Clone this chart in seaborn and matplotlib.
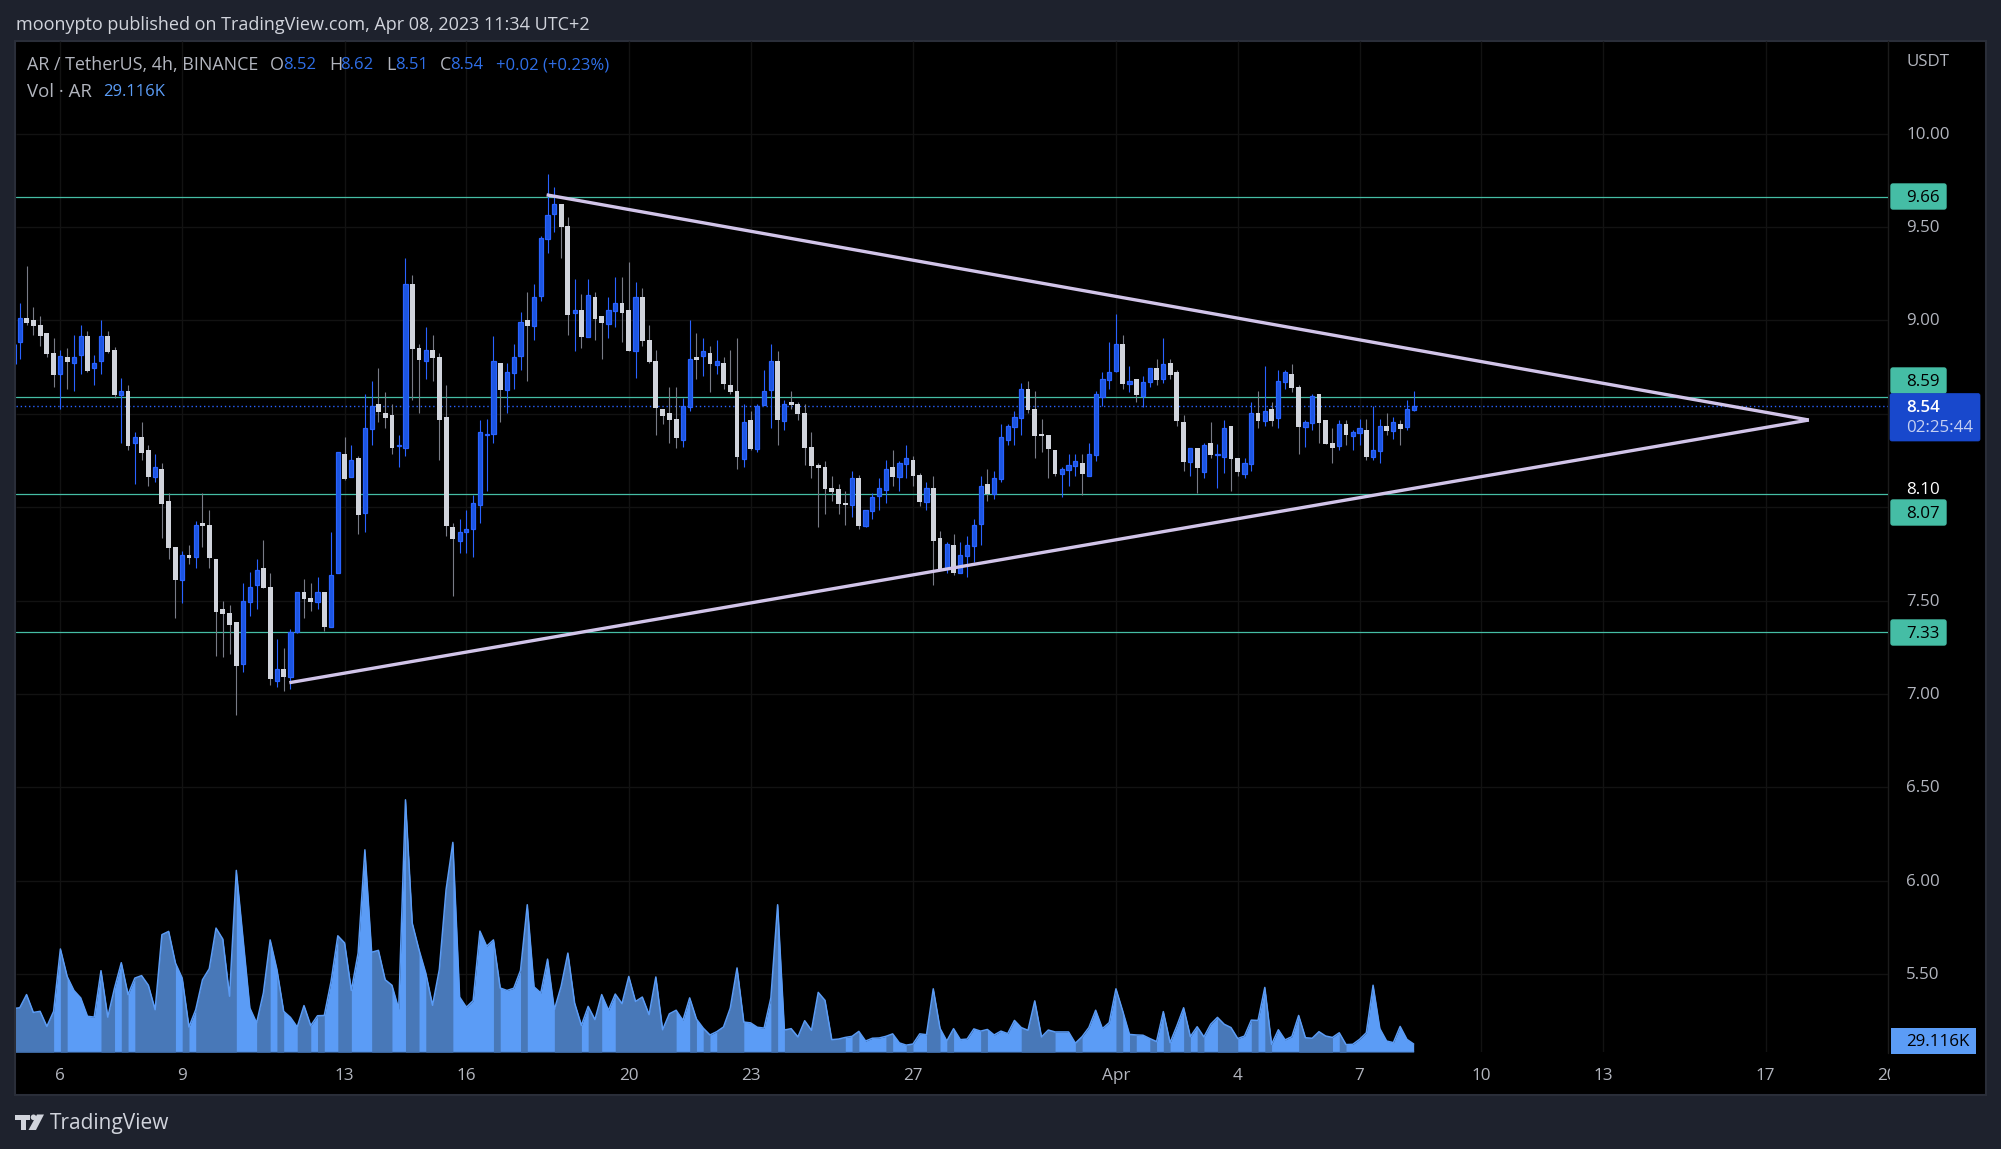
import numpy as np
import pandas as pd
import seaborn as sns
import matplotlib
matplotlib.use("Agg")
import matplotlib.pyplot as plt
from matplotlib.patches import Rectangle, FancyBboxPatch, Polygon, Circle

# ---------- data (4h candles, AR/USDT, first value = bar 1) ----------
opens = [8.883,9.012,9.003,8.976,8.932,8.825,8.712,8.803,8.771,8.814,
8.917,8.744,8.782,8.917,8.842,8.603,8.623,8.342,8.376,8.307,
8.164,8.205,8.034,7.787,7.612,7.744,7.732,7.916,7.905,7.723,
7.455,7.434,7.385,7.162,7.494,7.582,7.675,7.573,7.071,7.134,
7.093,7.334,7.546,7.514,7.494,7.546,7.360,7.646,8.285,8.164,
8.264,7.971,8.421,8.553,8.505,8.494,8.328,8.319,9.196,8.853,
8.782,8.842,8.805,8.483,7.894,7.821,7.867,7.882,8.014,8.387,
8.391,8.772,8.629,8.720,8.811,9.003,8.972,9.133,9.438,9.572,
9.624,9.506,9.042,9.056,8.913,9.126,9.024,8.983,9.053,9.094,
9.056,8.838,9.126,8.895,8.783,8.526,8.504,8.472,8.362,8.538,
8.804,8.811,8.826,8.763,8.772,8.654,8.622,8.260,8.467,8.312,
8.547,8.629,8.783,8.463,8.563,8.553,8.504,8.322,8.226,8.215,
8.103,8.097,8.022,8.013,8.156,7.901,7.981,8.062,8.094,8.215,
8.163,8.233,8.253,8.172,8.030,8.103,7.835,7.671,7.797,7.649,
7.741,7.794,7.912,8.124,8.073,8.153,8.362,8.431,8.480,8.633,
8.526,8.392,8.387,8.306,8.180,8.201,8.223,8.237,8.169,8.281,
8.592,8.683,8.731,8.874,8.662,8.687,8.594,8.673,8.746,8.689,
8.772,8.724,8.457,8.244,8.317,8.190,8.344,8.280,8.271,8.435,
8.264,8.180,8.233,8.505,8.464,8.526,8.480,8.673,8.713,8.644,
8.431,8.453,8.606,8.467,8.344,8.330,8.446,8.383,8.399,8.414,
8.271,8.303,8.435,8.410,8.446,8.431,8.522]
closes = [9.012,8.989,8.973,8.919,8.823,8.710,8.812,8.780,8.803,8.919,
8.732,8.771,8.916,8.833,8.603,8.621,8.330,8.375,8.292,8.164,
8.214,8.019,7.784,7.612,7.743,7.730,7.903,7.901,7.730,7.441,
7.430,7.371,7.152,7.496,7.571,7.662,7.569,7.082,7.132,7.091,
7.334,7.544,7.509,7.493,7.544,7.360,7.635,8.294,8.151,8.251,
7.959,8.423,8.541,8.510,8.478,8.317,8.334,9.194,8.848,8.789,
8.841,8.799,8.467,7.900,7.830,7.866,7.882,8.021,8.401,8.394,
8.782,8.628,8.722,8.803,8.990,8.970,9.124,9.440,9.563,9.622,
9.501,9.029,9.054,8.911,9.135,9.008,8.986,9.054,9.092,9.040,
8.837,9.124,8.890,8.778,8.533,8.488,8.467,8.371,8.540,8.792,
8.788,8.835,8.767,8.781,8.660,8.617,8.269,8.454,8.312,8.540,
8.621,8.781,8.467,8.551,8.547,8.499,8.317,8.221,8.210,8.097,
8.081,8.017,8.012,8.154,7.899,7.983,8.053,8.101,8.203,8.162,
8.235,8.262,8.167,8.028,8.101,7.819,7.669,7.801,7.647,7.742,
7.796,7.903,8.112,8.071,8.155,8.374,8.435,8.481,8.631,8.521,
8.381,8.381,8.312,8.178,8.203,8.224,8.246,8.178,8.283,8.605,
8.685,8.722,8.872,8.660,8.674,8.601,8.673,8.744,8.681,8.765,
8.708,8.462,8.242,8.315,8.210,8.331,8.280,8.287,8.423,8.258,
8.189,8.235,8.503,8.462,8.514,8.462,8.674,8.722,8.638,8.430,
8.455,8.594,8.451,8.339,8.317,8.444,8.387,8.401,8.423,8.269,
8.305,8.433,8.408,8.455,8.419,8.524,8.540]
highs = [9.092,9.292,9.071,9.024,8.932,8.905,8.842,8.853,8.923,8.974,
8.944,8.814,9.003,8.944,8.860,8.691,8.655,8.403,8.457,8.332,
8.285,8.235,8.075,7.787,7.764,7.798,7.926,8.075,7.984,7.723,
7.498,7.477,7.385,7.594,7.653,7.723,7.825,7.648,7.294,7.246,
7.348,7.544,7.616,7.594,7.626,7.546,7.867,8.294,8.376,8.334,
8.275,8.607,8.676,8.746,8.617,8.553,8.387,9.335,9.244,8.874,
8.966,8.923,8.826,8.655,7.916,7.937,7.985,8.066,8.467,8.473,
8.917,8.772,8.772,8.874,9.045,9.153,9.195,9.452,9.785,9.715,
9.624,9.554,9.222,9.142,9.222,9.153,9.024,9.126,9.233,9.233,
9.313,9.206,9.174,8.976,8.842,8.526,8.644,8.644,8.585,9.003,
8.933,8.906,8.863,8.895,8.804,8.842,8.906,8.553,8.515,8.553,
8.735,8.874,8.837,8.574,8.622,8.563,8.553,8.403,8.237,8.247,
8.167,8.124,8.087,8.194,8.172,7.983,8.076,8.156,8.253,8.306,
8.247,8.333,8.274,8.183,8.135,8.167,7.873,7.813,7.856,7.813,
7.846,7.937,8.167,8.205,8.194,8.446,8.446,8.515,8.663,8.676,
8.622,8.472,8.387,8.306,8.215,8.285,8.285,8.285,8.344,8.622,
8.724,8.885,9.035,8.922,8.756,8.687,8.703,8.744,8.794,8.906,
8.794,8.735,8.494,8.315,8.317,8.344,8.456,8.339,8.467,8.435,
8.264,8.264,8.563,8.622,8.756,8.563,8.735,8.735,8.767,8.655,
8.467,8.605,8.606,8.467,8.424,8.467,8.467,8.414,8.472,8.472,
8.542,8.472,8.505,8.483,8.467,8.574,8.622]
lows = [8.796,8.976,8.923,8.864,8.807,8.646,8.528,8.633,8.625,8.714,
8.725,8.655,8.714,8.828,8.585,8.344,8.307,8.125,8.253,8.114,
8.135,7.835,7.723,7.407,7.489,7.696,7.675,7.787,7.675,7.203,
7.198,7.214,6.887,7.118,7.418,7.455,7.569,7.048,7.037,7.016,
7.027,7.327,7.407,7.444,7.455,7.337,7.360,7.646,8.146,8.164,
7.857,7.867,8.334,8.457,8.425,8.285,8.216,8.275,8.575,8.505,
8.687,8.676,8.253,7.846,7.525,7.755,7.755,7.734,7.916,8.087,
8.344,8.456,8.504,8.633,8.735,8.676,8.895,9.104,9.361,9.474,
9.335,8.922,8.837,8.853,8.913,8.895,8.794,8.906,8.965,8.885,
8.837,8.692,8.863,8.772,8.387,8.446,8.344,8.317,8.322,8.515,
8.687,8.703,8.617,8.713,8.633,8.606,8.204,8.215,8.306,8.295,
8.547,8.424,8.333,8.413,8.526,8.467,8.226,8.156,7.894,7.963,
8.033,7.963,7.904,7.947,7.883,7.894,7.937,7.985,8.022,8.113,
8.087,8.156,8.113,8.006,7.985,7.583,7.669,7.647,7.637,7.649,
7.626,7.706,7.798,8.033,8.044,8.135,8.333,8.333,8.387,8.504,
8.264,8.296,8.156,8.167,8.055,8.114,8.167,8.065,8.169,8.247,
8.542,8.633,8.724,8.633,8.617,8.563,8.537,8.644,8.655,8.665,
8.687,8.435,8.194,8.167,8.076,8.156,8.264,8.103,8.183,8.087,
8.167,8.156,8.194,8.424,8.435,8.435,8.424,8.633,8.617,8.285,
8.322,8.414,8.344,8.339,8.237,8.306,8.333,8.306,8.333,8.253,
8.253,8.237,8.387,8.365,8.333,8.414,8.515]
edge_wick = [8.767, 8.873]          # bar cut off by the left edge of the pane

# volume in thousands, first value = bar 0
volumes = [158,161,209,144,148,93,148,375,275,224,197,130,127,296,127,233,325,209,269,278,
243,154,427,439,324,269,91,154,263,303,451,411,203,661,409,160,106,215,408,300,
148,126,91,169,96,132,133,257,423,397,224,360,736,363,370,263,243,156,918,469,
372,287,170,300,591,763,200,163,187,440,385,408,233,224,232,297,536,237,215,338,
154,239,360,178,97,166,118,209,152,211,176,275,184,200,136,273,81,139,152,115,
197,120,87,62,74,91,160,306,109,106,90,87,197,536,80,85,55,114,79,217,
188,45,47,53,57,75,40,50,51,57,66,33,25,29,66,63,230,86,40,85,
45,47,84,76,82,62,76,67,115,89,79,186,55,80,73,73,73,32,56,89,
152,85,107,230,149,64,62,61,49,38,147,34,95,161,56,92,55,101,126,101,
89,49,58,116,115,235,28,81,44,56,133,52,50,74,58,53,70,27,28,46,
70,243,85,40,34,93,46,29.116]
vol_dark_spans = [(0,6),(7,8),(13,15),(16,17),(18,24),(25,26),(27,33),(36,38),(39,40),(42,44),
(45,46),(48,50),(53,56),(58,60),(61,65),(71,72),(75,76),(80,84),(85,87),(89,98),
(100,101),(102,103),(104,108),(112,113),(114,123),(124,125),(129,130),(132,133),(135,137),(138,139),
(143,144),(149,154),(157,158),(163,164),(165,166),(168,169),(170,171),(173,174),(175,176),(178,181),
(183,184),(185,186),(190,195),(196,197)]

level_values = [9.66, 8.59, 8.07, 7.33]
last_price = 8.54
grid_prices = [10.0, 9.5, 9.0, 8.5, 8.0, 7.5, 7.0, 6.5, 6.0, 5.5]
price_tick_values = [10.0, 9.5, 9.0, 8.1, 7.5, 7.0, 6.5, 6.0, 5.5]
price_tick_labels = ["10.00", "9.50", "9.00", "8.10", "7.50", "7.00", "6.50", "6.00", "5.50"]
date_ticks = [7, 25, 49, 67, 91, 109, 133, 163, 181, 199, 217, 235, 259, 277]
date_labels = ["6", "9", "13", "16", "20", "23", "27", "Apr", "4", "7", "10", "13", "17", "20"]
wedge_upper = ([78.86, 265.4], [9.673, 8.467])
wedge_lower = ([40.83, 265.4], [7.06, 8.467])

# ---------- style ----------
BG = "#1e222d"; BORDER = "#2a2e39"; TXT = "#b2b5be"; GRID = "#121212"
BLUE = "#2962ff"; BLUE_FILL = "#1c55e0"; WHITE = "#d1d4dc"; GREY = "#787b86"
LEVEL = "#45bda5"; TREND = "#d1c4e9"; VOL = "#5b9cf6"; VOL_D = "#4878b8"
sns.set_theme(style="dark", rc={"font.family": "Open Sans", "figure.facecolor": BG,
                                "axes.facecolor": "none", "axes.grid": False})

W, H = 2001, 1149
fig = plt.figure(figsize=(W / 100, H / 100), dpi=100, facecolor=BG)

def axpx(l, t, r, b, z):
    a = fig.add_axes([l / W, 1 - b / H, (r - l) / W, (b - t) / H], zorder=z)
    a.set_facecolor("none")
    a.set_xticks([]); a.set_yticks([])
    for s in a.spines.values():
        s.set_visible(False)
    return a

# chrome layer in pixels
bg = axpx(0, 0, W, H, 0)
bg.set_xlim(0, W); bg.set_ylim(H, 0)
bg.add_patch(Rectangle((15, 41), 1971, 1054, fc="black", ec=BORDER, lw=1.5))
bg.plot([1888, 1888], [41, 1053], color="#1b1b1b", lw=1)

XL = (0.365, 277.1); YL = (5.082, 10.497)
ax = axpx(15.5, 41, 1888, 1052, 1)
ax.set_xlim(*XL); ax.set_ylim(*YL)

ax.hlines(grid_prices, *XL, color=GRID, lw=1, zorder=1)
ax.vlines(date_ticks[:-1], *YL, color=GRID, lw=1, zorder=1)

# price levels and current price
for lv in level_values:
    sns.lineplot(x=list(XL), y=[lv, lv], ax=ax, color=LEVEL, lw=0.9, zorder=2, legend=False)
ax.axhline(last_price, color=BLUE, lw=1, ls=(0, (1, 2)), zorder=2)

# candles
df = pd.DataFrame({"i": np.arange(1, len(opens) + 1), "o": opens, "h": highs, "l": lows, "c": closes})
df["up"] = df.c >= df.o
up, dn = df[df.up], df[~df.up]
ax.vlines(XL[0] + 0.05, edge_wick[0], edge_wick[1], color=BLUE, lw=0.8, zorder=3)
ax.vlines(dn.i, dn.l, dn.h, color=GREY, lw=0.8, zorder=3)
ax.vlines(up.i, up.l, up.h, color=BLUE, lw=0.8, zorder=3)
ax.bar(dn.i, (dn.o - dn.c), bottom=dn.c, width=0.72, color=WHITE, lw=0, zorder=4)
ax.bar(up.i, (up.c - up.o), bottom=up.o, width=0.62, color=BLUE_FILL, edgecolor=BLUE, lw=0.9, zorder=4)

# wedge lines
for xs, ys in (wedge_upper, wedge_lower):
    sns.lineplot(x=xs, y=ys, ax=ax, color=TREND, lw=2.4, zorder=5, legend=False, solid_capstyle="butt")
ax.set_xlabel(""); ax.set_ylabel("")
ax.set_xticks([]); ax.set_yticks([])
ax.set_xlim(*XL); ax.set_ylim(*YL)

# volume area
vax = axpx(15.5, 41, 1888, 1052, 2)
vol = np.array(volumes, dtype=float)
bars = np.arange(len(vol))
vax.fill_between(bars, 0, vol, color=VOL, lw=0, zorder=1)
for s, e in vol_dark_spans:
    e = min(e, len(vol) - 1)
    vax.fill_between(bars[s:e + 1], 0, vol[s:e + 1], color=VOL_D, lw=0, zorder=2)
sns.lineplot(x=bars, y=vol, ax=vax, color=VOL, lw=1.1, zorder=3, legend=False)
vax.plot(bars, np.zeros_like(vol), color="#3f6aa8", lw=1, zorder=3)
vax.set_xlabel(""); vax.set_ylabel("")
vax.set_xticks([]); vax.set_yticks([])
vax.set_xlim(*XL); vax.set_ylim(0, 3680)

# time scale (reaches 2px past the pane, where the last label is cut)
tax = axpx(15.5, 1052, 1890, 1095, 2)
tax.set_xlim(XL[0], XL[1] + 2 / 6.767); tax.set_ylim(0, 1)
for p, lab in zip(date_ticks, date_labels):
    tax.text(p, 0.45, lab, color=TXT, fontsize=12.3, ha="center", va="center", clip_on=True)

# overlay: price scale labels, legend text, logo
ov = axpx(0, 0, W, H, 3)
ov.set_xlim(0, W); ov.set_ylim(H, 0)
fig.canvas.draw()
def py(price):
    return H - ax.transData.transform((XL[0], price))[1]

TX = 1906
FS = 12.2
DY = 1.0
ov.text(TX, 61 + DY, "USDT", color=TXT, fontsize=FS, va="center")
for v, lab in zip(price_tick_values, price_tick_labels):
    ov.text(TX, py(v) + DY, lab, color="white" if lab == "8.10" else TXT, fontsize=FS, va="center")

def tag(price, label, ycenter=None, fc=LEVEL):
    yc = py(price) if ycenter is None else ycenter
    ov.add_patch(FancyBboxPatch((1891, yc - 12.5), 55, 25, boxstyle="round,pad=0,rounding_size=2",
                                fc=fc, ec=fc, lw=1))
    ov.text(TX, yc + DY, label, color="black", fontsize=FS, va="center")

tag(9.66, "9.66", 196.5)
tag(8.59, "8.59", 380.5)
tag(8.07, "8.07", 512.5)
tag(7.33, "7.33", 632.5)

ov.add_patch(FancyBboxPatch((1890, 393.5), 90, 47.5, boxstyle="round,pad=0,rounding_size=2",
                            fc="#1848cc", ec="#1848cc", lw=0.5))
ov.text(TX, 406.5 + DY, "8.54", color="white", fontsize=FS, va="center", fontweight="semibold")
ov.text(TX, 427 + DY, "02:25:44", color="#c5d0f2", fontsize=FS, va="center")

ov.add_patch(Rectangle((1891, 1028), 85, 25.5, fc=VOL, ec="none"))
ov.text(TX, 1041 + DY, "29.116K", color="black", fontsize=FS, va="center")

ov.text(15.5, 25, "moonypto published on TradingView.com, Apr 08, 2023 11:34 UTC+2",
        color=WHITE, fontsize=13, va="center")

def seq(y, parts, size=12.9):
    for x, s, c in parts:
        ov.text(x, y, s, color=c, fontsize=size, va="center")

LB = "#2f6fe8"
seq(65, [(27, "AR / TetherUS, 4h, BINANCE", TXT), (270, "O", TXT), (329, "H", TXT),
         (386, "L", TXT), (440, "C", TXT)])
seq(65, [(283.5, "8.52", LB), (340.5, "8.62", LB), (395, "8.51", LB), (450, "8.54", LB),
         (495.5, "+0.02 (+0.23%)", LB)], size=12.0)
seq(92, [(27, "Vol \u00b7 AR", TXT)], size=13.4)
seq(92, [(103, "29.116K", VOL)], size=12.0)

# logo
ov.add_patch(Polygon([(15, 1114.5), (30, 1114.5), (30, 1119.5), (26, 1119.5), (26, 1130),
                      (21, 1130), (21, 1119.5), (15, 1119.5)], fc=WHITE, ec="none"))
ov.add_patch(Circle((33.5, 1117.3), 2.8, fc=WHITE, ec="none"))
ov.add_patch(Polygon([(37, 1114.5), (44, 1114.5), (36, 1130), (28.5, 1130)], fc=WHITE, ec="none"))
ov.text(50, 1123, "TradingView", color=WHITE, fontsize=15, va="center")

fig.savefig("out.png", dpi=100, facecolor=BG)
